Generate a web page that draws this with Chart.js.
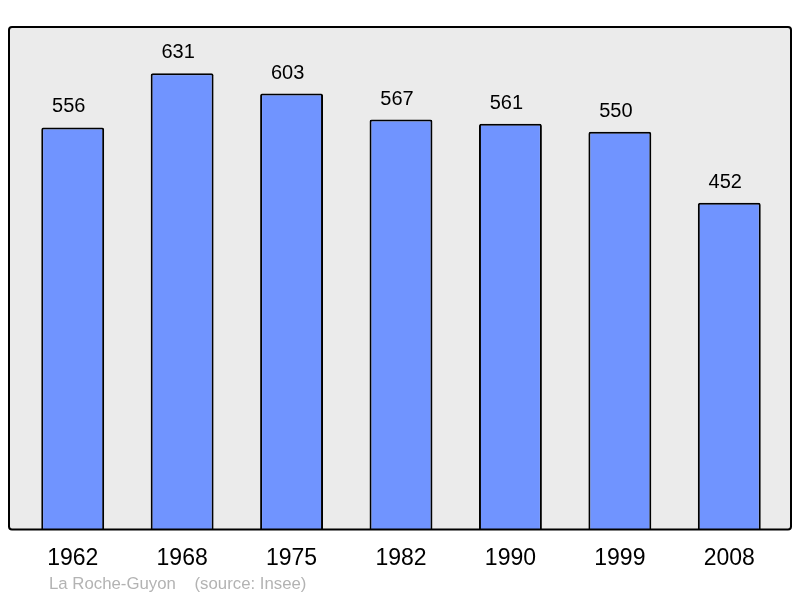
<!DOCTYPE html>
<html>
<head>
  <title>La Roche-Guyon population</title>
  <script src="https://cdn.jsdelivr.net/npm/chart.js"></script>
  <style>
    body {
      margin: 0;
      background: #fff;
    }
    canvas {
      display: block;
    }
  </style>
</head>
<body>
  <canvas id="chart" width="800" height="598"></canvas>

  <script>
    const years = ['1962', '1968', '1975', '1982', '1990', '1999', '2008'];
    const population = [556, 631, 603, 567, 561, 550, 452];
    const yMax = 695;

    // grey panel with black frame behind the bars
    const panel = {
      id: 'panel',
      beforeDatasetsDraw(chart) {
        const { ctx, chartArea: a } = chart;
        ctx.save();
        ctx.beginPath();
        ctx.roundRect(a.left - 9, a.top, a.right - a.left + 16, a.bottom - a.top, 3);
        ctx.fillStyle = '#ebebeb';
        ctx.fill();
        ctx.restore();
      },
      afterDatasetsDraw(chart) {
        const { ctx, chartArea: a } = chart;
        ctx.save();
        ctx.beginPath();
        ctx.roundRect(a.left - 9, a.top, a.right - a.left + 16, a.bottom - a.top, 3);
        ctx.lineWidth = 2;
        ctx.strokeStyle = '#000';
        ctx.stroke();

        // values above bars
        ctx.fillStyle = '#000';
        ctx.font = '20px "Liberation Sans", Arial, sans-serif';
        ctx.textAlign = 'center';
        ctx.textBaseline = 'alphabetic';
        chart.getDatasetMeta(0).data.forEach((bar, i) => {
          ctx.fillText(population[i], bar.x - 4, bar.y - 15);
        });

        // footer
        ctx.fillStyle = '#b3b3b3';
        ctx.font = '16.8px "Liberation Sans", Arial, sans-serif';
        ctx.textAlign = 'left';
        ctx.fillText('La Roche-Guyon    (source: Insee)', 49, 589);
        ctx.restore();
      }
    };

    new Chart(document.getElementById('chart'), {
      type: 'bar',
      data: {
        labels: years,
        datasets: [{
          data: population,
          backgroundColor: '#7094ff',
          borderColor: '#000',
          borderWidth: 2,
          borderRadius: { topLeft: 2, topRight: 2 },
          borderSkipped: 'bottom',
          barPercentage: 0.575,
          categoryPercentage: 1
        }]
      },
      options: {
        responsive: false,
        animation: false,
        layout: { padding: { left: 18, right: 16, top: 27, bottom: 11 } },
        plugins: {
          legend: { display: false },
          tooltip: { enabled: false }
        },
        scales: {
          x: {
            grid: { display: false, drawTicks: false },
            border: { display: false },
            ticks: {
              color: '#000',
              padding: 15,
              font: { family: '"Liberation Sans", Arial, sans-serif', size: 23 }
            }
          },
          y: {
            display: false,
            min: 0,
            max: yMax
          }
        }
      },
      plugins: [panel]
    });
  </script>
</body>
</html>
